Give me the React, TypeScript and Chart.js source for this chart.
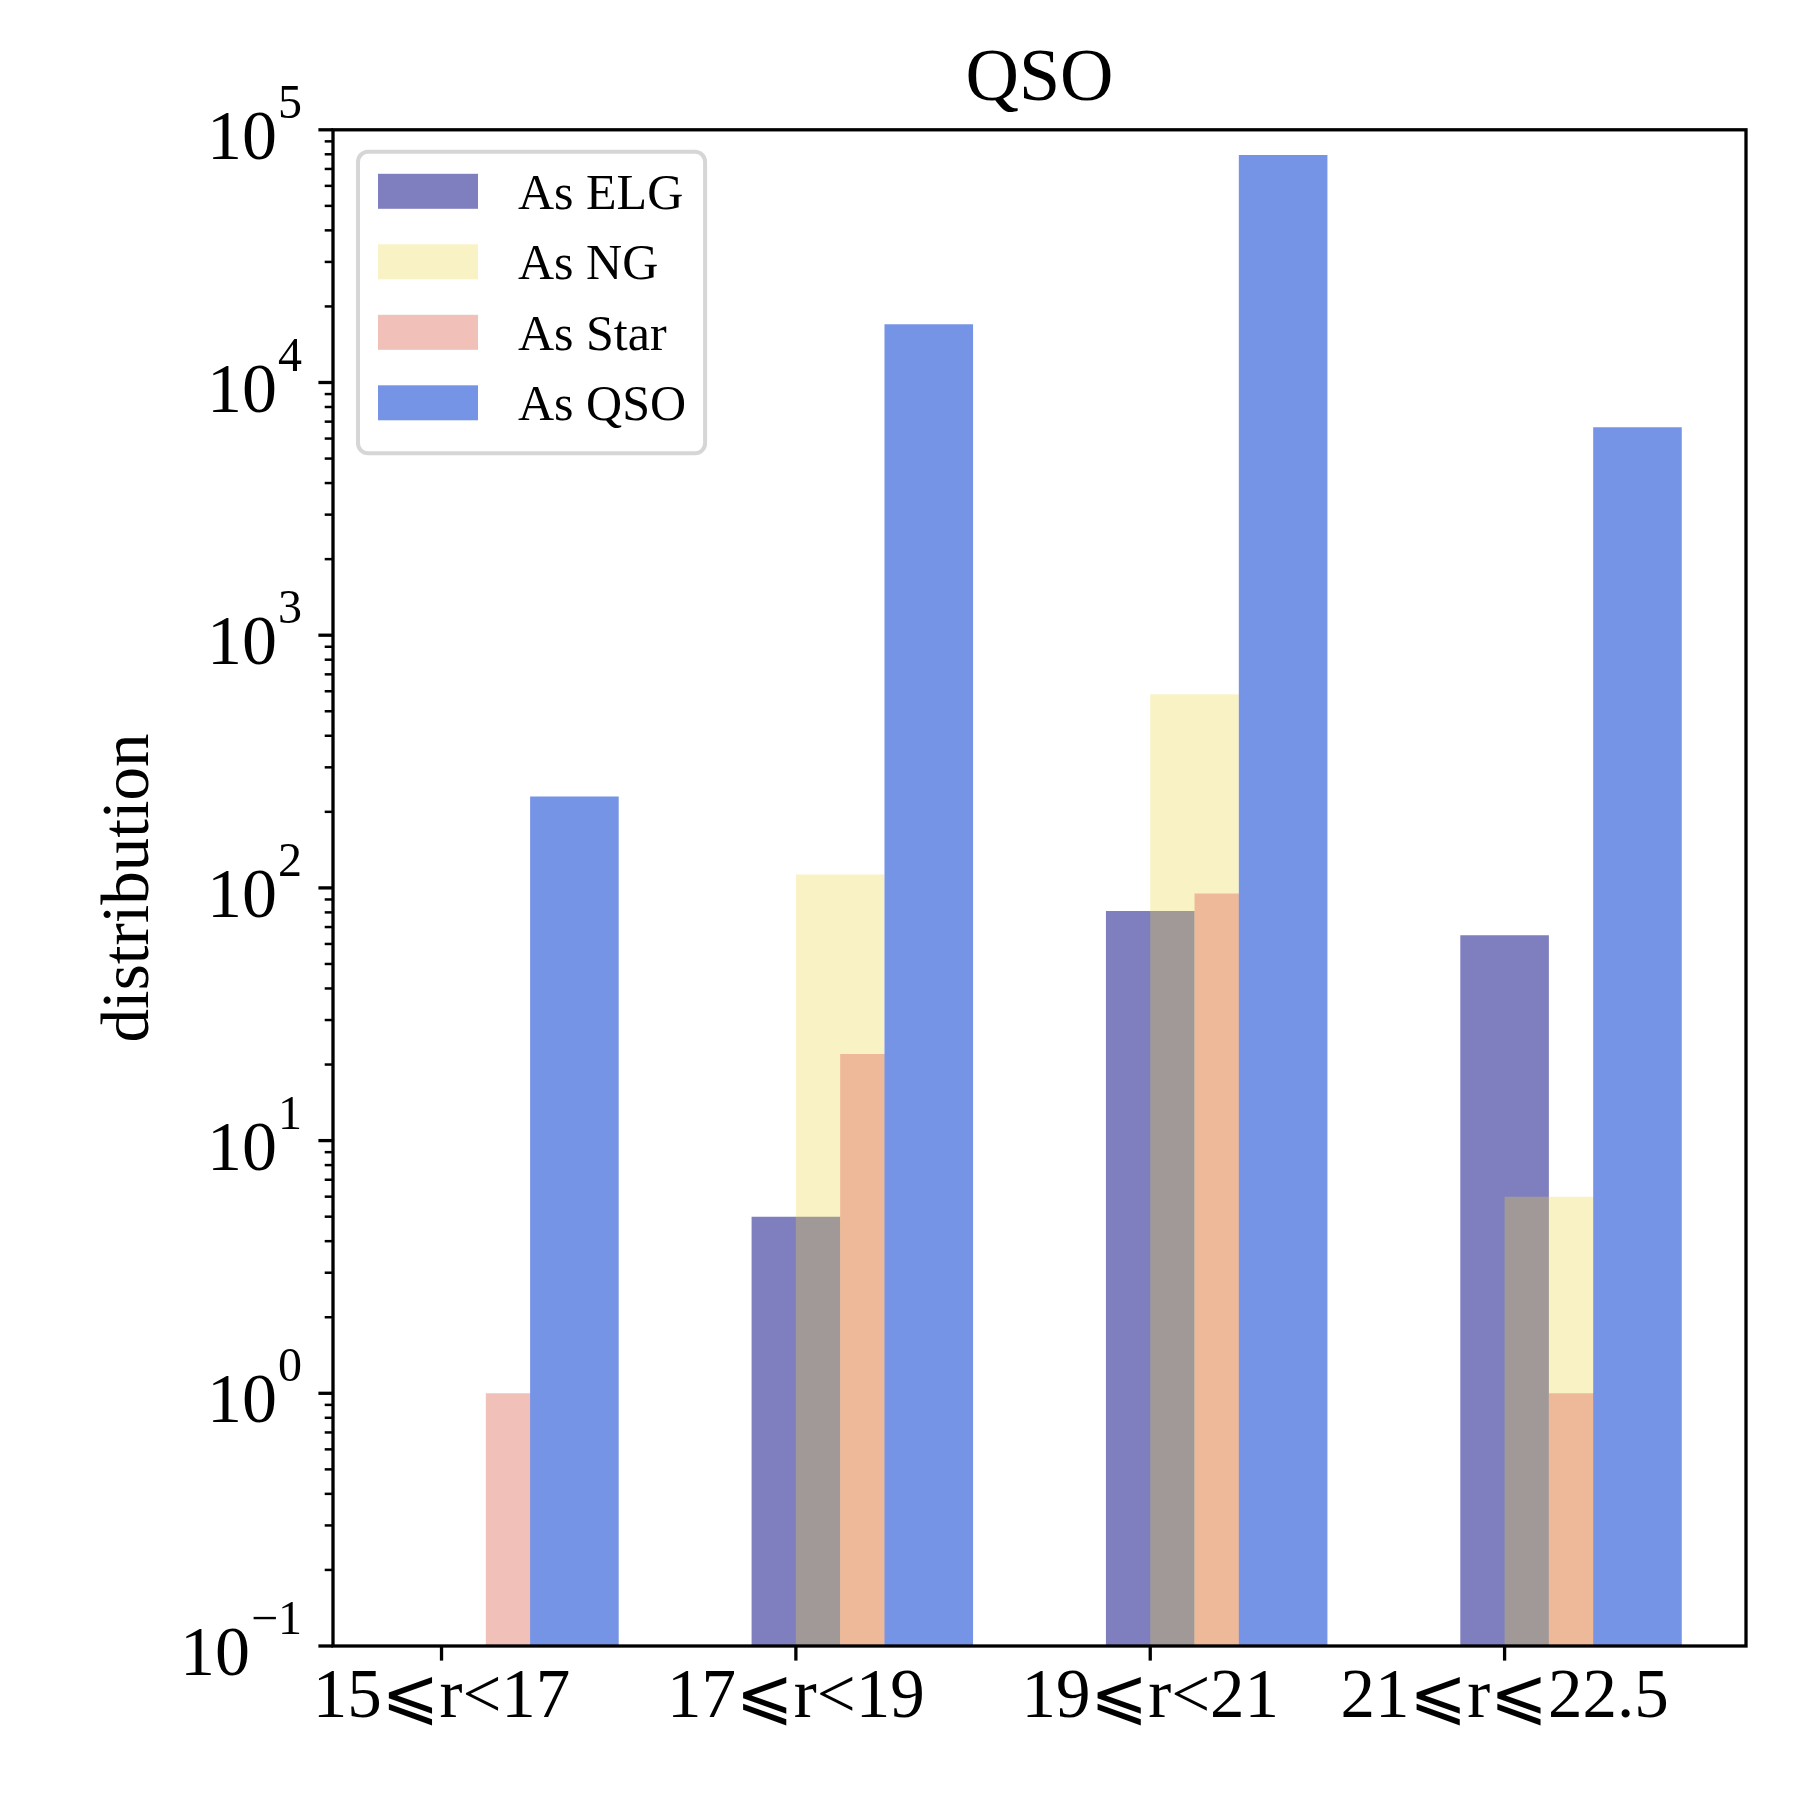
import { useEffect, useRef } from "react"
import { Chart, registerables } from "chart.js"

Chart.register(...registerables)

// data
const categories = ["15⩽r<17", "17⩽r<19", "19⩽r<21", "21⩽r⩽22.5"]
const seriesLabels = ["As ELG", "As NG", "As Star", "As QSO"]
const asELG = [0, 5, 81, 65]
const asNG = [0, 113, 584, 6]
const asStar = [1, 22, 95, 1]
const asQSO = [230, 17000, 79400, 6650]
const yMajorTicks = [0.1, 1, 10, 100, 1000, 10000, 100000]
const yTickExponents = ["−1", "0", "1", "2", "3", "4", "5"]

const seriesColors = [
  "rgba(0, 0, 128, 0.5)",
  "rgba(235, 212, 58, 0.3)",
  "rgba(222, 118, 103, 0.46)",
  "rgb(118, 148, 230)",
]
const SERIF = "'Liberation Serif', 'Times New Roman', serif"
const LABEL_FONT = "'Liberation Serif', 'DejaVu Serif', 'DejaVu Sans', serif"
// each series is shifted by half a bar width inside its group
const BAR_STEP = 0.125

const axesPlugin = {
  id: "mplAxes",
  afterDraw(chart: any) {
    const { ctx, chartArea: a } = chart
    const xs = chart.scales.x
    const ys = chart.scales.y
    ctx.save()
    ctx.strokeStyle = "#000"
    ctx.lineCap = "butt"

    // y ticks, major and minor
    ys.ticks.forEach((t: any) => {
      const major = yMajorTicks.includes(t.value)
      const py = ys.getPixelForValue(t.value)
      const len = major ? 14.6 : 8.3
      ctx.lineWidth = major ? 3.3 : 2.5
      ctx.beginPath()
      ctx.moveTo(a.left - len, py)
      ctx.lineTo(a.left, py)
      ctx.stroke()
    })

    // x ticks
    ctx.lineWidth = 3.3
    xs.ticks.forEach((t: any) => {
      const px = xs.getPixelForValue(t.value)
      ctx.beginPath()
      ctx.moveTo(px, a.bottom)
      ctx.lineTo(px, a.bottom + 14.6)
      ctx.stroke()
    })

    // spines
    ctx.strokeRect(a.left, a.top, a.right - a.left, a.bottom - a.top)

    // y tick labels with superscript exponent
    ctx.fillStyle = "#000"
    ctx.textAlign = "right"
    ctx.textBaseline = "alphabetic"
    yMajorTicks.forEach((v, i) => {
      const py = ys.getPixelForValue(v)
      const right = a.left - 31
      ctx.font = `48px ${SERIF}`
      const supW = ctx.measureText(yTickExponents[i]).width
      ctx.fillText(yTickExponents[i], right, py - 12)
      ctx.font = `70px ${SERIF}`
      ctx.fillText("10", right - supW - 1, py + 29)
    })

    // legend box
    const datasets = chart.data.datasets
    const lx = a.left + 25
    const ly = a.top + 22
    const rowStep = 70.5
    ctx.font = `50px ${SERIF}`
    const textW = Math.max(...datasets.map((d: any) => ctx.measureText(d.label).width))
    const w = 160 + textW + 19
    const h = 22 + (datasets.length - 1) * rowStep + 35 + 33
    ctx.beginPath()
    ctx.roundRect(lx, ly, w, h, 10)
    ctx.fillStyle = "rgba(255, 255, 255, 0.8)"
    ctx.fill()
    ctx.lineWidth = 4
    ctx.strokeStyle = "rgba(204, 204, 204, 0.8)"
    ctx.stroke()
    ctx.textAlign = "left"
    datasets.forEach((d: any, i: number) => {
      const top = ly + 22 + i * rowStep
      ctx.fillStyle = d.backgroundColor
      ctx.fillRect(lx + 20, top, 100, 35)
      ctx.fillStyle = "#000"
      ctx.fillText(d.label, lx + 160, top + 35)
    })
    ctx.restore()
  },
}

export default function App() {
  const canvasRef = useRef<HTMLCanvasElement>(null)

  useEffect(() => {
    document.body.style.margin = "0"
    if (!canvasRef.current) return

    const series = [asELG, asNG, asStar, asQSO]

    const chart = new Chart(canvasRef.current, {
      type: "bar",
      data: {
        datasets: series.map((vals, s) => ({
          label: seriesLabels[s],
          data: vals.map((v, i) => ({ x: i + s * BAR_STEP, y: v > 0 ? v : null })),
          backgroundColor: seriesColors[s],
          borderWidth: 0,
          order: series.length - s,
          grouped: false,
          categoryPercentage: 1,
          barPercentage: 2,
        })) as any,
      },
      options: {
        responsive: false,
        animation: false,
        layout: { padding: { left: 0, right: 54, top: 0, bottom: 0 } },
        plugins: {
          legend: { display: false },
          tooltip: { enabled: false },
          title: {
            display: true,
            text: "QSO",
            fullSize: false,
            color: "#000",
            font: { family: SERIF, size: 74, weight: "normal", lineHeight: 1.2 },
            padding: { top: 36, bottom: 5 },
          },
        },
        scales: {
          x: {
            type: "linear",
            min: -0.30625,
            max: 3.68125,
            offset: false,
            bounds: "data",
            grid: { display: false, drawTicks: false },
            border: { display: false },
            afterBuildTicks: (scale: any) => {
              scale.ticks = categories.map((_, i) => ({ value: i }))
            },
            afterFit: (scale: any) => {
              scale.height = 154
            },
            ticks: {
              autoSkip: false,
              maxRotation: 0,
              minRotation: 0,
              padding: 18,
              color: "#000",
              font: { family: LABEL_FONT, size: 69, lineHeight: 1 },
              callback: (_value: any, index: number) => categories[index],
            },
          },
          y: {
            type: "logarithmic",
            min: 0.1,
            max: 100000,
            grid: { display: false, drawTicks: false },
            border: { display: false },
            ticks: { display: false },
            afterBuildTicks: (scale: any) => {
              const ticks: { value: number }[] = []
              yMajorTicks.forEach((v, i) => {
                ticks.push({ value: v })
                if (i < yMajorTicks.length - 1) {
                  for (let m = 2; m <= 9; m++) ticks.push({ value: v * m })
                }
              })
              scale.ticks = ticks
            },
            afterFit: (scale: any) => {
              scale.width = 333
            },
            title: {
              display: true,
              text: "distribution",
              color: "#000",
              font: { family: SERIF, size: 67, weight: "normal", lineHeight: 1.2 },
              padding: { top: 90, bottom: 0 },
            },
          },
        },
      },
      plugins: [axesPlugin],
    })

    return () => {
      chart.destroy()
    }
  }, [])

  return (
    <div style={{ width: 1800, height: 1800 }}>
      <canvas ref={canvasRef} width={1800} height={1800} />
    </div>
  )
}
